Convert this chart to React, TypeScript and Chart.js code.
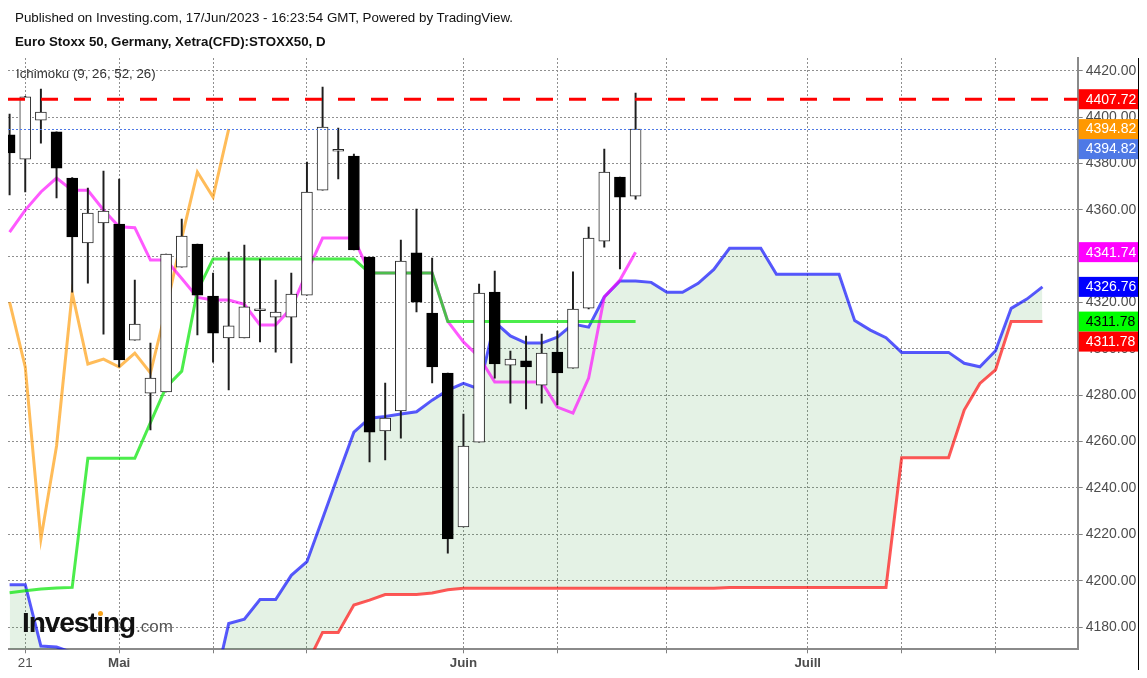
import React, { useEffect, useRef } from "react";
import { Chart, registerables } from "chart.js";

Chart.register(...registerables);

const FONT = "'Liberation Sans', Arial, Helvetica, sans-serif";

// ---- Daily candles (index 0 = 20 Apr 2023 ... index 40 = 16 Jun 2023)
const opens = [4392.3, 4381.9, 4398.7, 4393.6, 4373.7, 4345.7, 4354.3, 4353.9, 4303.8, 4280.9, 4281.4, 4335.3, 4345.2, 4322.8, 4304.7, 4304.7, 4316.5, 4313.7, 4313.7, 4323.2, 4368.5, 4385.3, 4383.2, 4339.6, 4264.6, 4273.2, 4341.4, 4315.5, 4289.6, 4223.2, 4259.8, 4324.5, 4293.0, 4294.8, 4284.4, 4298.6, 4291.7, 4317.6, 4346.5, 4374.1, 4365.9];
const highs = [4401.3, 4409.0, 4412.1, 4393.6, 4373.9, 4369.4, 4376.7, 4373.3, 4329.7, 4302.5, 4340.9, 4356.0, 4345.2, 4332.7, 4341.8, 4344.8, 4338.8, 4329.7, 4332.7, 4380.6, 4413.0, 4395.3, 4384.0, 4339.6, 4285.3, 4347.0, 4360.3, 4339.2, 4289.6, 4271.9, 4328.0, 4333.6, 4299.1, 4305.5, 4306.4, 4307.7, 4333.2, 4352.6, 4386.2, 4374.1, 4410.4];
const lows = [4366.4, 4367.7, 4388.8, 4365.1, 4324.5, 4328.4, 4306.4, 4292.2, 4303.8, 4265.0, 4281.4, 4335.3, 4306.0, 4294.3, 4282.3, 4304.7, 4303.0, 4298.6, 4293.9, 4323.2, 4368.5, 4373.3, 4342.7, 4251.2, 4252.1, 4261.5, 4315.9, 4285.3, 4211.9, 4223.2, 4259.8, 4287.4, 4276.6, 4274.1, 4276.6, 4275.8, 4291.7, 4317.2, 4343.9, 4334.5, 4364.6];
const closes = [4384.5, 4408.7, 4402.2, 4378.0, 4348.3, 4358.6, 4359.5, 4295.2, 4310.7, 4287.4, 4340.9, 4348.7, 4323.2, 4306.8, 4309.9, 4318.1, 4317.3, 4315.9, 4323.7, 4367.7, 4395.7, 4386.1, 4342.7, 4264.1, 4270.2, 4337.9, 4320.2, 4292.2, 4218.0, 4258.1, 4324.1, 4293.5, 4295.6, 4292.2, 4298.2, 4289.6, 4317.2, 4347.8, 4376.3, 4365.5, 4394.82];

// ---- Ichimoku (9, 26, 52, 26)
const tenkan = [4350.4, 4359.9, 4367.7, 4373.7, 4368.4, 4368.4, 4359.9, 4352.7, 4352.3, 4338.3, 4338.3, 4330.4, 4322.2, 4321.1, 4321.1, 4319.2, 4310.3, 4310.3, 4317.6, 4333.1, 4347.8, 4347.8, 4347.8, 4332.7, 4332.7, 4332.7, 4332.7, 4332.7, 4311.9, 4303.0, 4296.5, 4285.7, 4285.7, 4285.7, 4285.7, 4274.9, 4272.3, 4287.4, 4322.4, 4329.7, 4341.74];
const kijun = [4194.8, 4195.7, 4196.4, 4196.8, 4197.1, 4252.8, 4252.8, 4252.8, 4252.8, 4268.2, 4283.5, 4290.4, 4325.0, 4338.8, 4338.8, 4338.8, 4338.8, 4338.8, 4338.8, 4338.8, 4338.8, 4338.8, 4338.8, 4332.7, 4332.7, 4332.7, 4332.7, 4332.7, 4311.78, 4311.78, 4311.78, 4311.78, 4311.78, 4311.78, 4311.78, 4311.78, 4311.78, 4311.78, 4311.78, 4311.78, 4311.78];
const senkouA = [4198.3, 4198.3, 4171.8, 4171.4, 4169.0, 4160, 4160, 4160, 4160, 4160, 4160, 4160, 4160, 4152.0, 4181.5, 4183.4, 4191.9, 4191.9, 4202.3, 4208.2, 4226.8, 4245.6, 4264.1, 4270.1, 4270.8, 4271.9, 4272.9, 4277.9, 4282.2, 4285.1, 4282.7, 4311.6, 4305.6, 4302.5, 4302.5, 4305.1, 4310.7, 4309.4, 4322.4, 4329.3, 4329.3, 4328.7, 4324.4, 4324.4, 4328.3, 4334.3, 4343.4, 4343.4, 4343.4, 4332.2, 4332.2, 4332.2, 4332.2, 4332.2, 4312.2, 4308.1, 4304.8, 4298.5, 4298.5, 4298.5, 4298.5, 4293.8, 4292.3, 4299.2, 4317.5, 4321.5, 4326.76];
const senkouB = [4140, 4140, 4140, 4140, 4140, 4140, 4140, 4140, 4140, 4140, 4140, 4140, 4140, 4140, 4140, 4140, 4140, 4140, 4140, 4164.0, 4177.7, 4177.7, 4189.5, 4191.6, 4194.0, 4194.0, 4194.0, 4194.7, 4196.1, 4196.7, 4196.7, 4196.7, 4196.7, 4196.7, 4196.7, 4196.7, 4196.7, 4196.7, 4196.7, 4196.7, 4196.7, 4196.7, 4196.7, 4196.7, 4196.7, 4196.7, 4197.1, 4197.1, 4197.1, 4197.1, 4197.1, 4197.1, 4197.1, 4197.1, 4197.1, 4197.1, 4197.1, 4253.0, 4253.0, 4253.0, 4253.0, 4273.6, 4285.1, 4290.9, 4311.78, 4311.78, 4311.78];
const CHIKOU_SHIFT = 26;

const levelLine = 4407.72;

// ---- Axes
const xTickIndices = [1, 7, 13, 19, 29, 35, 42, 51, 57, 63];
const xTickLabels = ["21", "Mai", "", "", "Juin", "", "", "Juill", "", ""];
const monthLabels = ["Mai", "Juin", "Juill"];
const yTickValues = [4180, 4200, 4220, 4240, 4260, 4280, 4300, 4320, 4340, 4360, 4380, 4400, 4420];

const X_MIN = -0.102;
const X_MAX = 68.25;
const Y_MIN = 4170.4;
const Y_MAX = 4425.5;

const TAG_H = 20;

export default function App() {
  const ref = useRef<HTMLCanvasElement>(null);

  useEffect(() => {
    const canvas = ref.current;
    if (!canvas) return;
    Chart.defaults.font.family = FONT;

    const pts = (arr: number[]) => arr.map((v, i) => ({ x: i, y: v }));
    const bodyData = opens.map((o, i) => ({ x: i, y: [Math.min(o, closes[i]), Math.max(o, closes[i])] }));
    const wickData = lows.map((l, i) => ({ x: i, y: [l, highs[i]] }));
    const chikouData = closes.slice(CHIKOU_SHIFT).map((v, i) => ({ x: i, y: v }));
    const isUp = opens.map((o, i) => closes[i] >= o);

    const last = closes.length - 1;
    const tags = [
      { value: levelLine, bg: "#ff0000", fg: "#ffffff", shift: 0 },
      { value: closes[last], bg: "#ff9800", fg: "#ffffff", shift: 0 },
      { value: closes[last], bg: "#4e79e6", fg: "#ffffff", shift: 1 },
      { value: tenkan[tenkan.length - 1], bg: "#ff00ff", fg: "#ffffff", shift: 0 },
      { value: senkouA[senkouA.length - 1], bg: "#0000ff", fg: "#ffffff", shift: 0 },
      { value: kijun[kijun.length - 1], bg: "#00ff00", fg: "#000000", shift: 0 },
      { value: senkouB[senkouB.length - 1], bg: "#ff0000", fg: "#ffffff", shift: 1 },
    ];

    const overlay = {
      id: "overlay",
      afterDatasetsDraw(chart: any) {
        const { ctx, chartArea: a, scales } = chart;
        const y = scales.y;
        ctx.save();
        ctx.beginPath();
        ctx.rect(a.left, a.top, a.right - a.left, a.bottom - a.top);
        ctx.clip();
        const py = Math.round(y.getPixelForValue(closes[last])) + 0.5;
        ctx.strokeStyle = "#4e79e6";
        ctx.lineWidth = 1;
        ctx.setLineDash([2, 2]);
        ctx.beginPath();
        ctx.moveTo(a.left, py);
        ctx.lineTo(a.right, py);
        ctx.stroke();
        const ly = y.getPixelForValue(levelLine);
        ctx.strokeStyle = "#ff0000";
        ctx.lineWidth = 3;
        ctx.setLineDash([17, 16]);
        ctx.beginPath();
        ctx.moveTo(a.left, ly);
        ctx.lineTo(a.right, ly);
        ctx.stroke();
        ctx.restore();
      },
      afterDraw(chart: any) {
        const { ctx, chartArea: a, scales, width } = chart;
        const y = scales.y;
        ctx.save();
        ctx.font = `14px ${FONT}`;
        ctx.textBaseline = "middle";
        ctx.textAlign = "left";
        for (const t of tags) {
          const cy = y.getPixelForValue(t.value) + t.shift * TAG_H;
          ctx.fillStyle = t.bg;
          ctx.fillRect(a.right + 1, cy - TAG_H / 2, width - a.right - 1.5, TAG_H);
          ctx.fillStyle = t.fg;
          ctx.fillText(t.value.toFixed(2), a.right + 8, cy + 0.5);
        }
        ctx.restore();
      },
    };

    const chart = new Chart(canvas, {
      type: "bar",
      data: {
        datasets: [
          {
            type: "bar",
            data: bodyData as any,
            backgroundColor: isUp.map((u) => (u ? "#ffffff" : "#000000")),
            borderColor: isUp.map((u) => (u ? "#2a2a2a" : "#000000")),
            borderWidth: 1,
            borderSkipped: false,
            barThickness: 11,
            grouped: false,
            order: 0,
          } as any,
          {
            type: "bar",
            data: wickData as any,
            backgroundColor: "#1e1e1e",
            borderWidth: 0,
            barThickness: 1.3,
            grouped: false,
            order: 1,
          } as any,
          {
            type: "line",
            data: pts(kijun),
            borderColor: "rgba(0,230,0,0.7)",
            borderWidth: 3,
            pointRadius: 0,
            fill: false,
            order: 2,
          },
          {
            type: "line",
            data: pts(tenkan),
            borderColor: "rgba(255,0,255,0.65)",
            borderWidth: 3,
            pointRadius: 0,
            fill: false,
            order: 3,
          },
          {
            type: "line",
            data: chikouData,
            borderColor: "rgba(255,152,0,0.65)",
            borderWidth: 3,
            pointRadius: 0,
            fill: false,
            order: 4,
          },
          {
            type: "line",
            data: pts(senkouA),
            borderColor: "rgba(0,0,255,0.65)",
            borderWidth: 3,
            pointRadius: 0,
            fill: { target: 6, above: "rgba(67,160,71,0.14)", below: "rgba(244,67,54,0.14)" },
            order: 5,
          } as any,
          {
            type: "line",
            data: pts(senkouB),
            borderColor: "rgba(255,0,0,0.65)",
            borderWidth: 3,
            pointRadius: 0,
            fill: false,
            order: 6,
          },
        ],
      },
      options: {
        animation: false,
        responsive: false,
        events: [],
        layout: { padding: { top: 50, left: 0, right: 0, bottom: 0 } },
        plugins: {
          legend: { display: false },
          tooltip: { enabled: false },
          filler: { propagate: false, drawTime: "beforeDatasetsDraw" },
        } as any,
        scales: {
          x: {
            type: "linear",
            position: "bottom",
            min: X_MIN,
            max: X_MAX,
            offset: false,
            afterBuildTicks: (s: any) => {
              s.ticks = xTickIndices.map((v) => ({ value: v }));
            },
            afterFit: (s: any) => {
              s.height = 20.7;
            },
            ticks: {
              autoSkip: false,
              maxRotation: 0,
              minRotation: 0,
              padding: 2,
              color: "#4d4d4d",
              callback: (v: any) => {
                const k = xTickIndices.indexOf(Number(v));
                return k >= 0 ? xTickLabels[k] : "";
              },
              font: (c: any) => ({
                family: FONT,
                size: 13.3,
                weight: monthLabels.includes(xTickLabels[c.index]) ? "bold" : "normal",
              }),
            },
            grid: { offset: false, color: "#8f8f8f", lineWidth: 1, tickLength: 4, tickColor: "#808080", tickWidth: 1 },
            border: { display: true, color: "#8a8a8a", width: 2, dash: [2, 2] },
          } as any,
          y: {
            type: "linear",
            position: "right",
            min: Y_MIN,
            max: Y_MAX,
            afterBuildTicks: (s: any) => {
              s.ticks = yTickValues.map((v) => ({ value: v }));
            },
            afterFit: (s: any) => {
              s.width = 61.3;
            },
            ticks: {
              padding: 3,
              color: "#4d4d4d",
              font: { family: FONT, size: 14 },
              callback: (v: any) => Number(v).toFixed(2),
            },
            grid: { offset: false, color: "#8f8f8f", lineWidth: 1, tickLength: 5, tickColor: "#808080", tickWidth: 1 },
            border: { display: true, color: "#8a8a8a", width: 2, dash: [2, 2] },
          } as any,
        },
      },
      plugins: [overlay],
    });

    return () => chart.destroy();
  }, []);

  return (
    <div style={{ position: "relative", width: 1131, height: 662, overflow: "hidden", fontFamily: FONT }}>
      <canvas ref={ref} width={1131} height={662} style={{ position: "absolute", left: 0, top: 0 }} />
      <div style={{ position: "absolute", left: 7, top: 2.2, fontSize: 13.36, lineHeight: "15px", color: "#111", whiteSpace: "nowrap" }}>
        Published on Investing.com, 17/Jun/2023 - 16:23:54 GMT, Powered by TradingView.
      </div>
      <div style={{ position: "absolute", left: 7, top: 25.5, fontSize: 13.3, lineHeight: "15px", fontWeight: "bold", color: "#111", whiteSpace: "nowrap" }}>
        Euro Stoxx 50, Germany, Xetra(CFD):STOXX50, D
      </div>
      <div style={{ position: "absolute", left: 8, top: 58, fontSize: 13.3, lineHeight: "15px", color: "#333", whiteSpace: "nowrap" }}>
        Ichimoku (9, 26, 52, 26)
      </div>
      <div style={{ position: "absolute", left: 14, top: 600, display: "flex", alignItems: "baseline", whiteSpace: "nowrap", lineHeight: "30px" }}>
        <span style={{ fontWeight: 900, fontSize: 28, letterSpacing: -1.1, color: "#111" }}>
          Invest
          <span style={{ position: "relative" }}>
            ı
            <span style={{ position: "absolute", left: 1.5, top: 4, width: 5, height: 5, borderRadius: 3, background: "#f7a21b" }} />
          </span>
          ng
        </span>
        <span style={{ fontSize: 17, color: "#555", marginLeft: 1 }}>.com</span>
      </div>
      <div style={{ position: "absolute", left: 1130, top: 50, width: 1, height: 612, background: "#000" }} />
    </div>
  );
}
